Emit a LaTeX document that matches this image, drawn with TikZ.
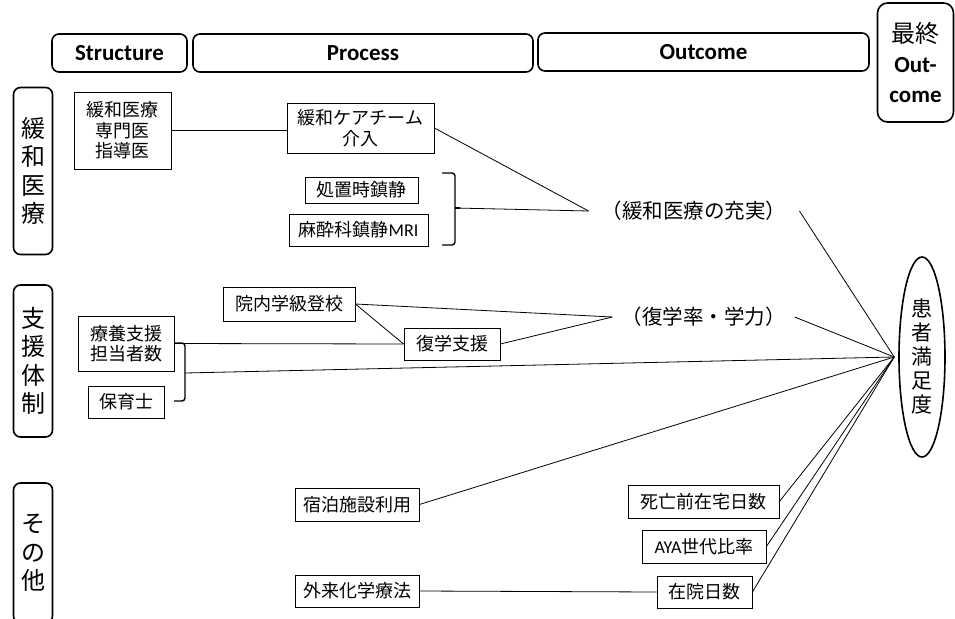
\documentclass[tikz,border=0pt]{standalone}
\usepackage{fontspec}
\setmainfont{Noto Sans CJK JP}
\newfontfamily\latfont{Carlito}
\usetikzlibrary{shapes.geometric,calc}

\begin{document}
\begin{tikzpicture}[x=1pt,y=-1pt,
  hdr/.style={draw, line width=1.6pt, rounded corners=7pt, inner sep=0pt,
    font=\latfont\bfseries\fontsize{23}{25}\selectfont},
  cat/.style={draw, line width=1.6pt, rounded corners=7pt, inner sep=0pt,
    minimum width=39pt, align=center, font=\fontsize{24}{28.5}\selectfont},
  box/.style={draw, line width=0.8pt, inner sep=0pt, align=center,
    font=\fontsize{18}{20.5}\selectfont},
  res/.style={inner ysep=0pt, font=\fontsize{20.5}{24}\selectfont},
  brace/.style={line width=1.4pt, rounded corners=3pt},
  link/.style={line width=0.8pt},
]
\useasboundingbox (0,0) rectangle (955,618);

% column headers
\node[hdr, minimum width=135pt, minimum height=38pt] (hS) at (119.5,53) {Structure};
\node[hdr, minimum width=340pt, minimum height=38pt] (hP) at (363,53) {Process};
\node[hdr, minimum width=331pt, minimum height=38pt] (hO) at (703.5,52) {Outcome};
\node[hdr, rounded corners=10pt, minimum width=76pt, minimum height=119pt,
      align=center, font=\latfont\bfseries\fontsize{23}{30}\selectfont] (hF) at (915.5,62.5)
      {{\normalfont\fontsize{24}{30}\selectfont 最終}\\Out-\\come};

% row categories
\node[cat, minimum height=167pt] (c1) at (33,171) {緩\\和\\医\\療};
\node[cat, minimum height=152pt] (c2) at (33,361) {支\\援\\体\\制};
\node[cat, minimum height=140pt] (c3) at (33,553) {そ\\の\\他};

% structure indicators
\node[box, minimum width=97pt, minimum height=77pt] (s1) at (122.5,130.5) {緩和医療\\専門医\\指導医};
\node[box, minimum width=96pt, minimum height=55pt] (s2) at (126,343.5) {療養支援\\担当者数};
\node[box, minimum width=76pt, minimum height=32pt] (s3) at (126,402) {保育士};

% process indicators
\node[box, minimum width=147pt, minimum height=50pt] (p1) at (360.5,128) {緩和ケアチーム\\介入};
\node[box, minimum width=113pt, minimum height=26pt] (p2) at (361.5,190) {処置時鎮静};
\node[box, minimum width=139pt, minimum height=32pt] (p3) at (358.5,230) {麻酔科鎮静{\latfont MRI}};
\node[box, minimum width=132pt, minimum height=34pt] (p4) at (289,304) {院内学級登校};
\node[box, minimum width=96pt, minimum height=32pt] (p5) at (452,344) {復学支援};
\node[box, minimum width=124pt, minimum height=33pt] (p6) at (357,504.5) {宿泊施設利用};
\node[box, minimum width=124pt, minimum height=32pt] (p7) at (357,591) {外来化学療法};

% outcome indicators
\node[box, minimum width=151pt, minimum height=33pt] (o1) at (703.5,501.5) {死亡前在宅日数};
\node[box, minimum width=124pt, minimum height=33pt] (o2) at (704,546.5) {{\latfont AYA}世代比率};
\node[box, minimum width=95pt, minimum height=32pt] (o3) at (704.5,592) {在院日数};
\node[res, inner xsep=13pt] (t1) at (694,211) {（緩和医療の充実）};
\node[res, inner xsep=9pt] (t2) at (703.5,317) {（復学率・学力）};

% final outcome
\node[draw, ellipse, line width=1.6pt, minimum width=46pt, minimum height=200pt,
      inner sep=0pt, align=center, font=\fontsize{21}{24}\selectfont] (sat) at (922,357)
      {患\\者\\満\\足\\度};
\coordinate (hub) at ($(sat.west)+(-4,0)$);

% brackets grouping indicators
\draw[brace] (442,173) -- (455,173) -- (455,245) -- (442,245);
\coordinate (btip) at (455,208);
\draw[line width=1.4pt] (btip) -- ++(5,0);
\draw[brace] (174,343) -- (185,343) -- (185,401) -- (174,401);
\coordinate (bmid) at (185,373);

% connections
\draw[link] (s1.east) -- (s1.east -| p1.west);
\draw[link] (p1.east) -- (t1.west);
\draw[link] (btip) -- (t1.west);
\draw[link] (t1.east) -- (hub);
\draw[link] (p4.east) -- (t2.west);
\draw[link] (p4.east) -- (p5.west);
\draw[link] (p5.east) -- (t2.west);
\draw[link] (t2.east) -- (hub);
\draw[link] (s2.east) -- (p5.west);
\draw[link] (bmid) -- (hub);
\draw[link] (p6.east) -- (hub);
\draw[link] (p7.east) -- (o3.west);
\draw[link] (o1.east) -- (hub);
\draw[link] (o2.east) -- (hub);
\draw[link] (o3.east) -- (hub);
\end{tikzpicture}
\end{document}
